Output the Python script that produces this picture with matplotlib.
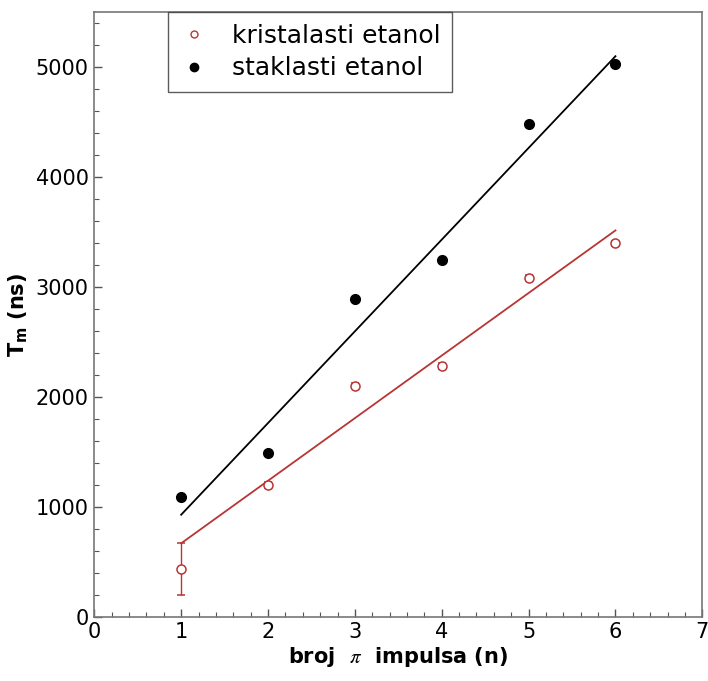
import numpy as np
import matplotlib
matplotlib.use("Agg")
import matplotlib.pyplot as plt
from matplotlib.ticker import MultipleLocator
from matplotlib.lines import Line2D

# broj pi impulsa
n = [1, 2, 3, 4, 5, 6]

# kristalasti etanol (T_m u ns) i greske
kristal_T = [435, 1198, 2102, 2281, 3085, 3397]
kristal_err = [235, 25, 25, 25, 25, 25]
kristal_fit = [668, 3515]

# staklasti etanol
staklo_T = [1092, 1487, 2888, 3246, 4480, 5025]
staklo_fit = [928, 5100]

fit_n = [1, 6]

red = "#b93434"

fig = plt.figure(figsize=(7.08, 6.81), dpi=100)
ax = fig.add_axes([0.1332, 0.0944, 0.8588, 0.8876])

ax.plot(fit_n, staklo_fit, color="black", lw=1.3)
ax.plot(fit_n, kristal_fit, color=red, lw=1.3)
ax.errorbar(n, kristal_T, yerr=kristal_err, fmt="o", mfc="white", mec=red,
            ecolor=red, ms=6.5, mew=1.1, elinewidth=1.0, capsize=3, zorder=3)
ax.plot(n, staklo_T, "o", color="black", ms=7, zorder=4)

ax.set_xlim(0, 7)
ax.set_ylim(0, 5500)
ax.xaxis.set_major_locator(MultipleLocator(1))
ax.xaxis.set_minor_locator(MultipleLocator(0.2))
ax.yaxis.set_major_locator(MultipleLocator(1000))
ax.yaxis.set_minor_locator(MultipleLocator(200))
ax.tick_params(which="both", direction="in", top=False, right=False,
               labelsize=15, color="#555555", pad=4)
ax.tick_params(which="major", length=6, width=1)
ax.tick_params(which="minor", length=3.5, width=0.8)
for s in ax.spines.values():
    s.set_color("#777777")
    s.set_linewidth(1.2)

ax.set_xlabel(r"broj  $\pi$  impulsa (n)", fontsize=15, fontweight="bold",
              math_fontfamily="stix", labelpad=2)
ax.set_ylabel(r"T$_\mathbf{m}$ (ns)", fontsize=15, fontweight="bold", labelpad=4)

handles = [
    Line2D([], [], ls="none", marker="o", mfc="white", mec=red, ms=5, mew=1.0),
    Line2D([], [], ls="none", marker="o", color="black", ms=6),
]
labels = ["kristalasti etanol", "staklasti etanol"]
leg = ax.legend(handles, labels, loc="upper left", bbox_to_anchor=(0.121, 1.0),
                borderaxespad=0, fontsize=18, frameon=True, fancybox=False,
                handlelength=1.2, handletextpad=0.9,
                borderpad=0.45, labelspacing=0.35)
leg.get_frame().set_edgecolor("#333333")
leg.get_frame().set_linewidth(1.0)

fig.savefig("out.png", dpi=100)
